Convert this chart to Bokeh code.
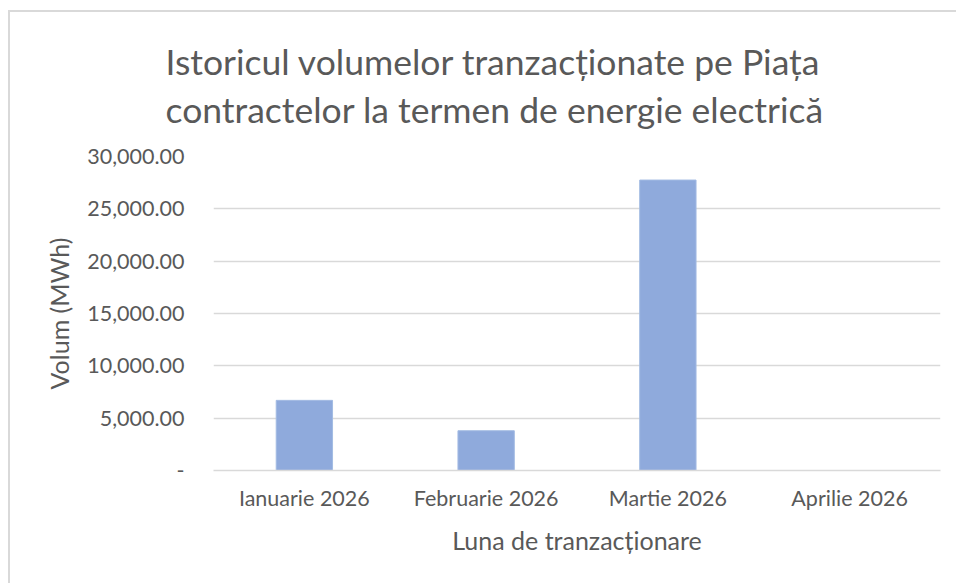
from bokeh.plotting import figure
from bokeh.models import FactorRange, Range1d, NumeralTickFormatter, FixedTicker, Title
from bokeh.embed import file_html
from bokeh.resources import INLINE

# ---- data ----
months = ["Ianuarie 2026", "Februarie 2026", "Martie 2026", "Aprilie 2026"]
volumes = [6700, 3800, 27750, 0]
y_ticks = [0, 5000, 10000, 15000, 20000, 25000, 30000]

title_text = "Istoricul volumelor tranzacționate pe Piața\ncontractelor la termen de energie electrică"
x_title = "Luna de tranzacționare"
y_title = "Volum (MWh)"

FONT = "Lato"
TXT = "#595959"
GRID = "#d9d9d9"
BAR = "#8faadc"

p = figure(
    x_range=FactorRange(*months),
    y_range=Range1d(0, 30000),
    width=948, height=573,
    output_backend="svg", toolbar_location=None,
    min_border_left=203, min_border_right=18,
    min_border_top=144, min_border_bottom=115,
)
p.styles = {"border-top": "2px solid #d9d9d9", "border-left": "2px solid #d9d9d9",
            "margin-top": "10px", "margin-left": "8px"}

p.title = Title(text=title_text, align="left", offset=-48, standoff=50,
                text_font=FONT, text_font_size="35.5px", text_font_style="normal",
                text_color=TXT, text_line_height=1.12)

p.vbar(x=months, top=volumes, width=0.31, fill_color=BAR, line_color="#a3bbe3", line_width=1)

p.outline_line_color = None
p.xgrid.grid_line_color = None
p.ygrid.grid_line_color = GRID
p.ygrid.grid_line_width = 1.5

p.yaxis.ticker = FixedTicker(ticks=y_ticks)
p.yaxis.formatter = NumeralTickFormatter(format="0,0.00")
p.yaxis.major_label_overrides = {0: "-"}
p.yaxis.axis_line_color = None
p.yaxis.major_tick_line_color = None
p.yaxis.major_tick_out = 0
p.yaxis.minor_tick_line_color = None
p.yaxis.minor_tick_out = 0
p.yaxis.major_label_standoff = 29
p.yaxis.axis_label = y_title
p.yaxis.axis_label_standoff = 10

p.xaxis.axis_line_color = GRID
p.xaxis.axis_line_width = 1.5
p.xaxis.major_tick_line_color = None
p.xaxis.major_tick_out = 0
p.xaxis.minor_tick_line_color = None
p.xaxis.minor_tick_out = 0
p.xaxis.major_label_standoff = 14
p.xaxis.axis_label = x_title
p.xaxis.axis_label_standoff = 11

for ax in (p.xaxis, p.yaxis):
    ax.major_label_text_font = FONT
    ax.major_label_text_font_size = "21.5px"
    ax.major_label_text_color = TXT
    ax.axis_label_text_font = FONT
    ax.axis_label_text_font_size = "25px"
    ax.axis_label_text_font_style = "normal"
    ax.axis_label_text_color = TXT

open("out.html", "w").write(file_html(p, INLINE))
